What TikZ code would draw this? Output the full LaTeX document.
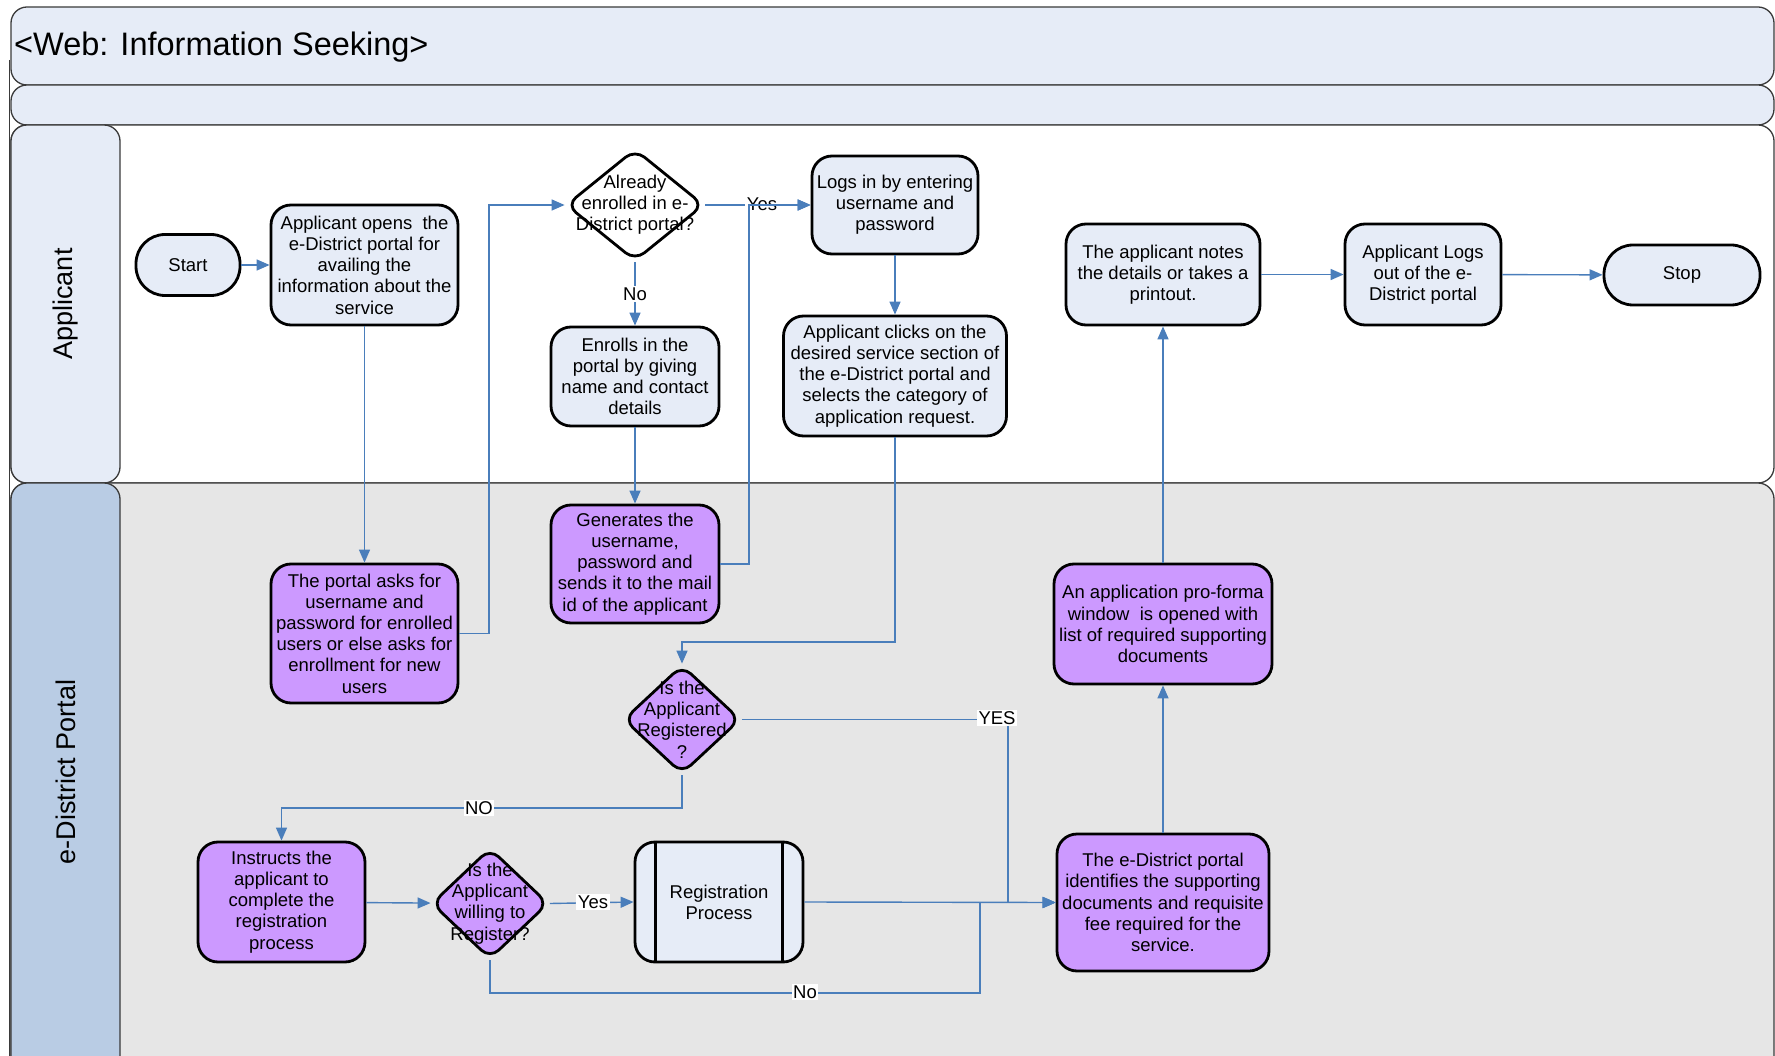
\documentclass[tikz,border=0pt]{standalone}
\usepackage{fontspec}
\setmainfont{Liberation Sans}
\usetikzlibrary{shapes.geometric,arrows.meta}

\definecolor{paleblue}{HTML}{E6ECF7}
\definecolor{lilac}{HTML}{CC99FF}
\definecolor{steel}{HTML}{B9CCE4}
\definecolor{lanegray}{HTML}{E6E6E6}
\definecolor{wire}{HTML}{4A7EBB}
\definecolor{rim}{HTML}{3A3A3A}

\begin{document}
\begin{tikzpicture}[x=1pt,y=-1pt,
  every node/.style={font=\fontsize{18.5}{21.2}\selectfont, inner sep=0pt},
  box/.style={draw=black, line width=2.8pt, rounded corners=20pt, align=center, fill=paleblue},
  pbox/.style={box, fill=lilac},
  term/.style={box, rounded corners=29pt},
  dec/.style={diamond, draw=black, line width=2.8pt, rounded corners=12pt, inner sep=0pt},
  dtext/.style={align=center},
  flow/.style={draw=wire, line width=1.4pt, -{Triangle[length=13pt,width=11pt]}},
  elabel/.style={fill=white, inner sep=1.5pt},
  lanelabel/.style={font=\fontsize{27}{30}\selectfont, rotate=90},
  band/.style={draw=rim, line width=1.3pt, rounded corners=16pt},
]
\useasboundingbox (0,0) rectangle (1775,1056);
\clip (0,0) rectangle (1775,1056);

% ---------- pool header and lanes ----------
\draw[band, fill=paleblue] (11,7) rectangle (1774,85);
\draw[band, fill=paleblue] (11,85) rectangle (1774,125);
\draw[band, fill=white] (11,125) rectangle (1774,483);
\draw[band, fill=paleblue] (11,125) rectangle (120,483);
\draw[band, fill=lanegray] (11,483) rectangle (1774,1075);
\draw[band, fill=steel] (11,483) rectangle (120,1075);
\draw[rim, line width=1pt] (9,60) -- (9,1056);

\node[anchor=west, font=\fontsize{32.5}{37}\selectfont] (title) at (14,47) {<Web: Information Seeking>};
\node[lanelabel] (laneA) at (65.5,304) {Applicant};
\node[lanelabel] (laneP) at (65.5,772) {e-District Portal};

% ---------- applicant lane ----------
\node[term, minimum width=104pt, minimum height=61pt] (start) at (188,265) {Start};
\node[box, minimum width=187pt, minimum height=120pt] (open) at (364.5,265)
  {Applicant opens\ \ the\\e-District portal for\\availing the\\information about the\\service};
\node[dec, minimum width=138pt, minimum height=112pt] (enr) at (635,205) {};
\node[dtext] (enrt) at (enr.center) {Already\\enrolled in e-\\District portal?};
\node[box, minimum width=166pt, minimum height=98pt] (login) at (895,205)
  {Logs in by entering\\username and\\password};
\node[box, minimum width=168pt, minimum height=99pt] (enrol) at (635,376.5)
  {Enrolls in the\\portal by giving\\name and contact\\details};
\node[box, minimum width=223pt, minimum height=120pt] (pick) at (895,376)
  {Applicant clicks on the\\desired service section of\\the e-District portal and\\selects the category of\\application request.};
\node[box, minimum width=194pt, minimum height=101pt] (note) at (1163,274.5)
  {The applicant notes\\the details or takes a\\printout.};
\node[box, minimum width=156pt, minimum height=101pt] (logout) at (1423,274.5)
  {Applicant Logs\\out of the e-\\District portal};
\node[term, minimum width=156pt, minimum height=60pt] (stop) at (1682,275) {Stop};

% ---------- e-District portal lane ----------
\node[pbox, minimum width=187pt, minimum height=139pt] (ask) at (364.5,633.5)
  {The portal asks for\\username and\\password for enrolled\\users or else asks for\\enrollment for new\\users};
\node[pbox, minimum width=168pt, minimum height=118pt] (gen) at (635,564)
  {Generates the\\username,\\password and\\sends it to the mail\\id of the applicant};
\node[dec, fill=lilac, minimum width=117pt, minimum height=109pt] (reg) at (682,719.5) {};
\node[dtext] (regt) at (reg.center) {Is the\\Applicant\\Registered\\?};
\node[pbox, minimum width=218pt, minimum height=120pt] (form) at (1163,624)
  {An application pro-forma\\window\ \ is opened with\\list of required supporting\\documents};
\node[pbox, minimum width=167pt, minimum height=120pt] (instr) at (281.5,902)
  {Instructs the\\applicant to\\complete the\\registration\\process};
\node[dec, fill=lilac, minimum width=117pt, minimum height=111pt] (will) at (490,903.5) {};
\node[dtext] (willt) at (will.center) {Is the\\Applicant\\willing to\\Register?};
\node[box, minimum width=168pt, minimum height=120pt] (regp) at (719,902) {Registration\\Process};
\draw[black, line width=2.8pt] ([xshift=22pt]regp.north west) -- ([xshift=22pt]regp.south west);
\draw[black, line width=2.8pt] ([xshift=-22pt]regp.north east) -- ([xshift=-22pt]regp.south east);
\node[pbox, minimum width=212pt, minimum height=137pt] (ident) at (1163,902.5)
  {The e-District portal\\identifies the supporting\\documents and requisite\\fee required for the\\service.};

% ---------- bend columns and rows ----------
\coordinate (c1) at (489,0);
\coordinate (c2) at (749,0);
\coordinate (c3) at (1008,0);
\coordinate (c4) at (980,0);
\coordinate (r1) at (0,642);
\coordinate (r2) at (0,808);
\coordinate (r3) at (0,993);

% ---------- connectors ----------
\draw[flow] (start) -- (open);
\draw[flow] (open) -- (ask);
\draw[flow] (ask.east) -- (ask.east -| c1) |- (enr.west);
\draw[flow] (enr.south) -- (enrol.north);
\node[elabel] (lno) at (635,294) {No};
\draw[flow] (enr.east) -- (login.west);
\node[elabel] (lyes) at (762,204) {Yes};
\draw[flow] (enrol) -- (gen);
\draw[flow] (gen.east) -- (gen.east -| c2) |- (login.west);
\draw[flow] (login) -- (pick);
\draw[flow] (pick.south) -- (pick.south |- r1) -| (reg.north);
\draw[flow] (reg.south) -- (reg.south |- r2) -| (instr.north);
\node[elabel] (lNO) at (479,808) {NO};
\draw[flow] (reg.east) -- (reg.east -| c3) |- (ident.west);
\node[elabel] (lYES) at (997,718) {YES};
\draw[flow] (instr) -- (will);
\draw[flow] (will.east) -- (regp.west);
\node[elabel] (lyes2) at (593,902) {Yes};
\draw[flow] (regp.east) -- (ident.west);
\draw[flow] (will.south) -- (will.south |- r3) -| (c4 |- ident.west) -- (ident.west);
\node[elabel] (lno2) at (805,992) {No};
\draw[flow] (ident) -- (form);
\draw[flow] (form) -- (note);
\draw[flow] (note) -- (logout);
\draw[flow] (logout) -- (stop);
\end{tikzpicture}
\end{document}
